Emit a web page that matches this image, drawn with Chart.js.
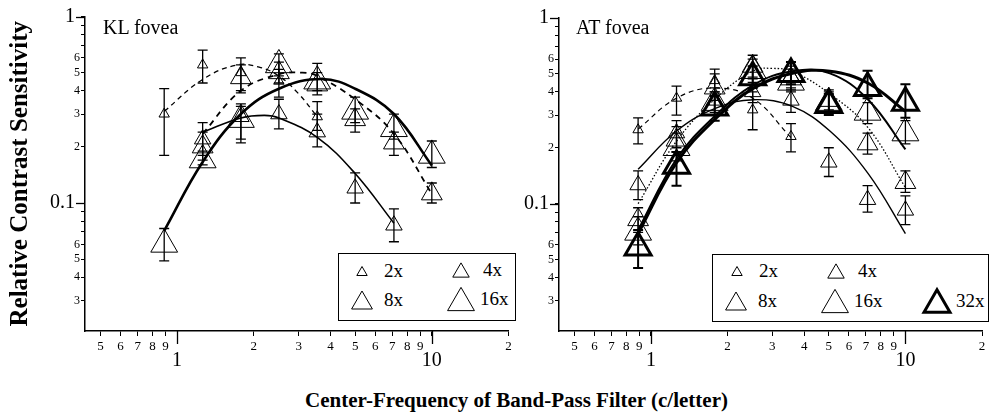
<!DOCTYPE html>
<html>
<head>
<meta charset="utf-8">
<script src="https://cdn.jsdelivr.net/npm/chart.js@4"></script>
<style>
  html, body { margin: 0; padding: 0; background: #fff; overflow: hidden; width: 989px; height: 418px; }
  body { position: relative; font-family: 'Liberation Serif', 'DejaVu Serif', serif; color: #000; }
  .panel { position: absolute; top: 0; height: 380px; }
  #leftBox { left: 0; width: 525px; }
  #rightBox { left: 474px; width: 526px; }
  .tag { position: absolute; font-size: 20px; line-height: 20px; white-space: nowrap; }
  #xTitle { position: absolute; left: 0; width: 1033px; top: 388px; text-align: center; font-weight: bold; font-size: 21px; line-height: 24px; }
  .legend { position: absolute; border: 1.5px solid #000; box-sizing: border-box; background: #fff; }
  .item { position: absolute; font-size: 19px; line-height: 20px; white-space: nowrap; }
  svg.tri { position: absolute; overflow: visible; }
</style>
</head>
<body>
<div class="panel" id="leftBox"><canvas id="klChart"></canvas></div>
<div class="panel" id="rightBox"><canvas id="atChart"></canvas></div>
<div class="tag" style="left:103px; top:17px;">KL fovea</div>
<div class="tag" style="left:576px; top:17px;">AT fovea</div>
<div id="xTitle">Center-Frequency of Band-Pass Filter (c/letter)</div>
<div class="legend" style="left:338px; top:253px; width:178px; height:68px;"></div>
<div class="legend" style="left:712px; top:254px; width:277px; height:68px;"></div>
<script>
const FONT = "'Liberation Serif', 'DejaVu Serif', serif";

// axis ticks
const xTickVals = [0.5, 0.6, 0.7, 0.8, 0.9, 1, 2, 3, 4, 5, 6, 7, 8, 9, 10, 20];
const xTickLabels = ['5', '6', '7', '8', '9', '1', '2', '3', '4', '5', '6', '7', '8', '9', '10', '2'];
const xMajor = [1, 10];
const yTickVals = [0.03, 0.04, 0.05, 0.06, 0.07, 0.08, 0.09, 0.1, 0.2, 0.3, 0.4, 0.5, 0.6, 0.7, 0.8, 0.9, 1];
const yTickLabels = ['3', '4', '5', '6', '', '', '', '0.1 ', '2', '3', '4', '5', '6', '', '', '', '1 '];
const yMajor = [0.1, 1];

// center frequencies (c/letter)
const freqs = [0.89, 1.26, 1.78, 2.51, 3.55, 5.0, 7.1, 10];

// KL fovea: measured points + error bar ends
const klX2 = [0.89, 1.26, 1.78, 2.51, 3.55];
const kl2 = [0.30, 0.55, 0.50, 0.45, 0.29];
const kl2Lo = [0.18, 0.44, 0.40, 0.37, 0.245];
const kl2Hi = [0.41, 0.66, 0.60, 0.52, 0.35];
const klX4 = [1.26, 1.78, 2.51, 3.55, 5.0, 7.1];
const kl4 = [0.22, 0.29, 0.30, 0.24, 0.12, 0.076];
const kl4Lo = [0.18, 0.21, 0.25, 0.20, 0.10, 0.062];
const kl4Hi = [0.27, 0.33, 0.36, 0.30, 0.145, 0.093];
const klX8 = [1.26, 1.78, 2.51, 3.55, 5.0, 7.1, 10];
const kl8 = [0.20, 0.47, 0.50, 0.43, 0.28, 0.21, 0.112];
const kl8Lo = [0.17, 0.39, 0.44, 0.38, 0.24, 0.18, 0.10];
const kl8Hi = [0.24, 0.55, 0.57, 0.50, 0.32, 0.24, 0.128];
const klX16 = freqs;
const kl16 = [0.06, 0.17, 0.28, 0.55, 0.45, 0.31, 0.25, 0.18];
const kl16Lo = [0.049, 0.16, 0.22, 0.48, 0.40, 0.27, 0.22, 0.155];
const kl16Hi = [0.073, 0.19, 0.34, 0.63, 0.56, 0.37, 0.30, 0.215];

// KL fitted curves
const klFit2X = [0.89, 1.26, 1.72, 2.1, 2.51, 3.0, 3.55];
const klFit2Y = [0.31, 0.46, 0.55, 0.535, 0.48, 0.385, 0.29];
const klFit4X = [1.26, 1.78, 2.2, 2.51, 3.55, 5.0, 7.1];
const klFit4Y = [0.24, 0.286, 0.295, 0.286, 0.225, 0.144, 0.078];
const klFit8X = [1.26, 1.78, 2.51, 3.1, 3.55, 5.0, 7.1, 10];
const klFit8Y = [0.235, 0.40, 0.49, 0.50, 0.48, 0.36, 0.235, 0.112];
const klFit16X = [0.89, 1.26, 1.78, 2.51, 3.7, 5.0, 7.1, 10];
const klFit16Y = [0.071, 0.166, 0.30, 0.41, 0.462, 0.41, 0.30, 0.159];

// AT fovea
const atX2 = [0.89, 1.26, 1.78, 2.51, 3.55];
const at2 = [0.25, 0.37, 0.46, 0.32, 0.23];
const at2Lo = [0.21, 0.30, 0.40, 0.25, 0.19];
const at2Hi = [0.29, 0.43, 0.53, 0.40, 0.27];
const at4 = [0.126, 0.24, 0.36, 0.40, 0.36, 0.167, 0.105, 0.092];
const at4Lo = [0.105, 0.20, 0.31, 0.35, 0.31, 0.14, 0.09, 0.077];
const at4Hi = [0.15, 0.28, 0.42, 0.47, 0.42, 0.20, 0.125, 0.11];
const at8 = [0.082, 0.22, 0.42, 0.55, 0.47, 0.36, 0.21, 0.13];
const at8Lo = [0.07, 0.19, 0.36, 0.48, 0.41, 0.32, 0.185, 0.115];
const at8Hi = [0.095, 0.26, 0.50, 0.63, 0.55, 0.41, 0.24, 0.15];
const at16 = [0.07, 0.20, 0.35, 0.52, 0.45, 0.35, 0.31, 0.24];
const at16Lo = [0.06, 0.17, 0.30, 0.45, 0.40, 0.31, 0.27, 0.21];
const at16Hi = [0.085, 0.24, 0.40, 0.60, 0.53, 0.40, 0.35, 0.28];
const at32 = [0.058, 0.16, 0.33, 0.48, 0.50, 0.34, 0.42, 0.35];
const at32Lo = [0.045, 0.125, 0.28, 0.42, 0.44, 0.30, 0.37, 0.29];
const at32Hi = [0.072, 0.19, 0.38, 0.55, 0.58, 0.39, 0.52, 0.44];

const atFit2X = [0.89, 1.26, 1.78, 2.51, 3.55];
const atFit2Y = [0.252, 0.37, 0.42, 0.37, 0.227];
const atFitX = [0.89, 1.26, 1.8, 2.53, 3.6, 5.05, 7.14, 10];
const atFit4Y = [0.153, 0.246, 0.327, 0.363, 0.334, 0.246, 0.145, 0.069];
const atFit8X = [0.89, 1.26, 1.8, 2.53, 3.0, 3.6, 5.05, 7.14, 10];
const atFit8Y = [0.10, 0.217, 0.37, 0.52, 0.535, 0.515, 0.39, 0.256, 0.122];
const atFit16Y = [0.072, 0.174, 0.30, 0.436, 0.517, 0.503, 0.363, 0.196];
const atFit32Y = [0.069, 0.166, 0.288, 0.419, 0.503, 0.517, 0.445, 0.314];

// legend
const klLabels = ['2x', '4x', '8x', '16x'];
const atLabels = ['2x', '4x', '8x', '16x', '32x'];
const triSize = { '2x': 6, '4x': 9.5, '8x': 12, '16x': 15.5, '32x': 15 };
const triLine = { '2x': 1, '4x': 1, '8x': 1, '16x': 1, '32x': 3 };

function toXY(xs, ys) {
  return xs.map((x, i) => ({ x: x, y: ys[i] }));
}

function pointSet(label, xs, ys, lo, hi) {
  return {
    label: label,
    data: toXY(xs, ys),
    showLine: false,
    pointStyle: 'triangle',
    pointRadius: triSize[label],
    pointHoverRadius: triSize[label],
    pointBorderWidth: triLine[label],
    pointBorderColor: '#000',
    pointBackgroundColor: 'rgba(0,0,0,0)',
    errLo: lo,
    errHi: hi,
    errWidth: label === '32x' ? 2 : 1.3
  };
}

function fitSet(xs, ys, width, dash) {
  return {
    data: toXY(xs, ys),
    showLine: true,
    borderColor: '#000',
    borderWidth: width,
    borderDash: dash,
    pointRadius: 0,
    tension: 0.4,
    fill: false
  };
}

const errorBars = {
  id: 'errorBars',
  beforeDatasetsDraw(chart) {
    const ctx = chart.ctx;
    const x = chart.scales.x, y = chart.scales.y;
    ctx.save();
    ctx.strokeStyle = '#000';
    chart.data.datasets.forEach(ds => {
      if (!ds.errLo) return;
      ctx.lineWidth = ds.errWidth;
      ds.data.forEach((p, i) => {
        const px = x.getPixelForValue(p.x);
        const top = y.getPixelForValue(ds.errHi[i]);
        const bot = y.getPixelForValue(ds.errLo[i]);
        ctx.beginPath();
        ctx.moveTo(px, top); ctx.lineTo(px, bot);
        ctx.moveTo(px - 5, top); ctx.lineTo(px + 5, top);
        ctx.moveTo(px - 5, bot); ctx.lineTo(px + 5, bot);
        ctx.stroke();
      });
    });
    ctx.restore();
  }
};

// longer tick marks at the decades
const majorTicks = {
  id: 'majorTicks',
  afterDraw(chart) {
    const ctx = chart.ctx;
    const area = chart.chartArea;
    ctx.save();
    ctx.strokeStyle = '#000';
    ctx.lineWidth = 1.3;
    xMajor.forEach(v => {
      const px = Math.round(chart.scales.x.getPixelForValue(v)) + 0.5;
      ctx.beginPath(); ctx.moveTo(px, area.bottom); ctx.lineTo(px, area.bottom + 13); ctx.stroke();
    });
    yMajor.forEach(v => {
      const py = Math.round(chart.scales.y.getPixelForValue(v)) + 0.5;
      ctx.beginPath(); ctx.moveTo(area.left - 9, py); ctx.lineTo(area.left, py); ctx.stroke();
    });
    ctx.restore();
  }
};

function makeOptions(showTitle, padRight) {
  return {
    responsive: true,
    maintainAspectRatio: false,
    animation: false,
    events: [],
    layout: { padding: { top: 16, left: 0, right: padRight, bottom: 0 } },
    plugins: { legend: { display: false }, tooltip: { enabled: false } },
    scales: {
      x: {
        type: 'logarithmic',
        min: 0.435,
        max: 20,
        afterBuildTicks: s => { s.ticks = xTickVals.map(v => ({ value: v })); },
        afterFit: s => { s.height = 49; },
        border: { display: true, color: '#000', width: 1.5 },
        grid: { display: true, drawOnChartArea: false, drawTicks: true, tickLength: 5, color: '#000', lineWidth: 1 },
        ticks: {
          autoSkip: false, maxRotation: 0, minRotation: 0, padding: 3, color: '#000',
          font: c => (c.tick && xMajor.includes(c.tick.value))
            ? { family: FONT, size: 20, lineHeight: 0.73 }
            : { family: FONT, size: 13, lineHeight: 1.2 },
          callback: (v, i) => xMajor.includes(v) ? ['', xTickLabels[i]] : xTickLabels[i]
        }
      },
      y: {
        type: 'logarithmic',
        min: 0.0206,
        max: 1,
        afterBuildTicks: s => { s.ticks = yTickVals.map(v => ({ value: v })); },
        afterFit: s => { s.width = 85; },
        border: { display: true, color: '#000', width: 1.5 },
        grid: { display: true, drawOnChartArea: false, drawTicks: true, tickLength: 4, color: '#000', lineWidth: 1 },
        title: {
          display: showTitle,
          text: 'Relative Contrast Sensitivity',
          color: '#000',
          font: { family: FONT, size: 25, weight: 'bold' },
          padding: { top: 6, bottom: 0 }
        },
        ticks: {
          autoSkip: false, padding: 1, color: '#000',
          font: c => (c.tick && yMajor.includes(c.tick.value))
            ? { family: FONT, size: 20 }
            : { family: FONT, size: 12 },
          callback: (v, i) => yTickLabels[i]
        }
      }
    }
  };
}

new Chart(document.getElementById('klChart'), {
  type: 'scatter',
  data: {
    datasets: [
      fitSet(klFit2X, klFit2Y, 1.3, [5, 4]),
      fitSet(klFit4X, klFit4Y, 1.6, []),
      fitSet(klFit8X, klFit8Y, 1.8, [6, 5]),
      fitSet(klFit16X, klFit16Y, 2.6, []),
      pointSet('2x', klX2, kl2, kl2Lo, kl2Hi),
      pointSet('4x', klX4, kl4, kl4Lo, kl4Hi),
      pointSet('8x', klX8, kl8, kl8Lo, kl8Hi),
      pointSet('16x', klX16, kl16, kl16Lo, kl16Hi)
    ]
  },
  options: makeOptions(true, 8),
  plugins: [errorBars, majorTicks]
});

new Chart(document.getElementById('atChart'), {
  type: 'scatter',
  data: {
    datasets: [
      fitSet(atFit2X, atFit2Y, 1.2, [5, 4]),
      fitSet(atFitX, atFit4Y, 1.4, []),
      fitSet(atFit8X, atFit8Y, 1.3, [1.5, 2]),
      fitSet(atFitX, atFit16Y, 2, []),
      fitSet(atFitX, atFit32Y, 3, []),
      pointSet('2x', atX2, at2, at2Lo, at2Hi),
      pointSet('4x', freqs, at4, at4Lo, at4Hi),
      pointSet('8x', freqs, at8, at8Lo, at8Hi),
      pointSet('16x', freqs, at16, at16Lo, at16Hi),
      pointSet('32x', freqs, at32, at32Lo, at32Hi)
    ]
  },
  options: makeOptions(false, 9),
  plugins: [errorBars, majorTicks]
});

// legends: triangle + label at [x, y] inside each box
const klSpots = [[23, 17], [122, 16], [23, 46], [122, 45]];
const atSpots = [[24, 16], [123, 16], [23, 46], [122, 46], [224, 46]];
const textGap = 22;

function buildLegend(box, labels, spots) {
  const NS = 'http://www.w3.org/2000/svg';
  labels.forEach((lab, i) => {
    const cx = spots[i][0], cy = spots[i][1];
    const r = triSize[lab];
    const svg = document.createElementNS(NS, 'svg');
    svg.setAttribute('class', 'tri');
    svg.setAttribute('width', 40);
    svg.setAttribute('height', 40);
    svg.style.left = (cx - 20) + 'px';
    svg.style.top = (cy - 20) + 'px';
    const poly = document.createElementNS(NS, 'polygon');
    const h = 0.75 * r, w = 0.866 * r;
    poly.setAttribute('points', `20,${20 - h} ${20 + w},${20 + h} ${20 - w},${20 + h}`);
    poly.setAttribute('fill', 'none');
    poly.setAttribute('stroke', '#000');
    poly.setAttribute('stroke-width', triLine[lab]);
    svg.appendChild(poly);
    box.appendChild(svg);
    const t = document.createElement('div');
    t.className = 'item';
    t.textContent = lab;
    t.style.left = (cx + textGap - (lab.length > 2 ? 3 : 0)) + 'px';
    t.style.top = (cy - 10) + 'px';
    box.appendChild(t);
  });
}

const boxes = document.querySelectorAll('.legend');
buildLegend(boxes[0], klLabels, klSpots);
buildLegend(boxes[1], atLabels, atSpots);
</script>
</body>
</html>
